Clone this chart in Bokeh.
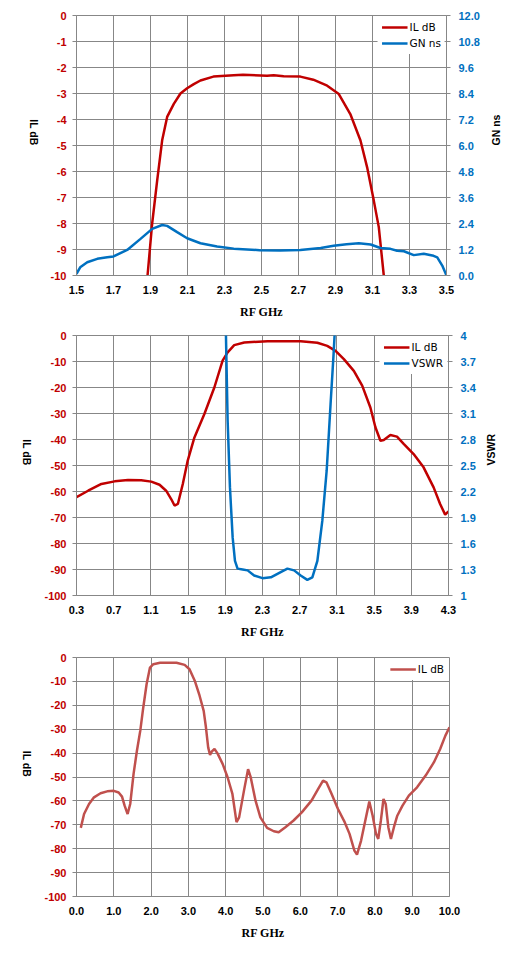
import math
from bokeh.plotting import figure
from bokeh.models import Range1d, LinearAxis, FixedTicker, Legend, LegendItem
from bokeh.layouts import column
from bokeh.embed import file_html
from bokeh.resources import INLINE

RED = "#c00000"
BLUE = "#0070c0"
RED3 = "#c0504d"
GRID = "#878787"

# ---------------- Chart 1: IL dB and GN ns, 1.5-3.5 GHz ----------------
c1_freq_il = [1.884, 1.909, 1.936, 1.963, 1.99, 2.026, 2.062, 2.098, 2.134, 2.17, 2.24, 2.35,
              2.40, 2.53, 2.566, 2.62, 2.71, 2.78, 2.855, 2.918, 2.98, 3.035, 3.071, 3.107,
              3.134, 3.161]
c1_il = [-10.0, -8.0, -6.35, -4.8, -3.9, -3.4, -3.0, -2.8, -2.64, -2.5, -2.35, -2.3,
         -2.28, -2.32, -2.3, -2.34, -2.35, -2.47, -2.7, -3.02, -3.79, -4.81, -5.84, -7.12,
         -8.14, -10.0]
c1_freq_gn = [1.5, 1.52, 1.558, 1.612, 1.666, 1.70, 1.774, 1.846, 1.909, 1.963, 1.99, 2.044,
              2.098, 2.17, 2.26, 2.35, 2.49, 2.6, 2.71, 2.82, 2.89, 2.96, 3.026, 3.09,
              3.143, 3.197, 3.233, 3.27, 3.323, 3.377, 3.43, 3.45, 3.477, 3.5]
c1_gn = [0.08, 0.38, 0.61, 0.77, 0.84, 0.88, 1.18, 1.69, 2.15, 2.33, 2.29, 2.0,
         1.72, 1.49, 1.34, 1.24, 1.17, 1.15, 1.18, 1.27, 1.37, 1.44, 1.49, 1.43,
         1.27, 1.23, 1.14, 1.12, 0.94, 1.0, 0.91, 0.84, 0.46, 0.0]
c1_x_ticks = [1.5, 1.7, 1.9, 2.1, 2.3, 2.5, 2.7, 2.9, 3.1, 3.3, 3.5]
c1_x_labels = ["1.5", "1.7", "1.9", "2.1", "2.3", "2.5", "2.7", "2.9", "3.1", "3.3", "3.5"]
c1_y_ticks = [0, -1, -2, -3, -4, -5, -6, -7, -8, -9, -10]
c1_y_labels = ["0", "-1", "-2", "-3", "-4", "-5", "-6", "-7", "-8", "-9", "-10"]
c1_r_ticks = [0.0, 1.2, 2.4, 3.6, 4.8, 6.0, 7.2, 8.4, 9.6, 10.8, 12.0]
c1_r_labels = ["0.0", "1.2", "2.4", "3.6", "4.8", "6.0", "7.2", "8.4", "9.6", "10.8", "12.0"]

# ---------------- Chart 2: IL dB and VSWR, 0.3-4.3 GHz ----------------
c2_freq_il = [0.3, 0.425, 0.568, 0.71, 0.854, 0.996, 1.104, 1.193, 1.264, 1.318, 1.354, 1.39,
              1.443, 1.496, 1.568, 1.675, 1.782, 1.871, 1.925, 1.996, 2.104, 2.354, 2.71,
              2.89, 2.996, 3.086, 3.175, 3.282, 3.372, 3.46, 3.514, 3.568, 3.604, 3.675,
              3.746, 3.818, 3.925, 4.032, 4.14, 4.21, 4.264, 4.3]
c2_il = [-62.2, -59.7, -57.1, -56.1, -55.6, -55.7, -56.2, -57.4, -59.7, -62.9, -65.4, -64.8,
         -57.1, -48.1, -39.2, -30.2, -20.0, -9.7, -6.5, -3.7, -2.7, -2.2, -2.2,
         -2.8, -4.0, -5.9, -9.1, -13.6, -19.3, -27.7, -35.3, -40.5, -40.2, -38.3,
         -38.9, -41.7, -45.6, -50.7, -58.4, -64.8, -68.9, -67.6]
c2_freq_vswr = [1.898, 1.911, 1.925, 1.95, 1.979, 2.004, 2.032, 2.086, 2.14, 2.21, 2.3, 2.39,
                2.496, 2.568, 2.64, 2.71, 2.782, 2.836, 2.89, 2.943, 2.99, 3.032, 3.064,
                3.075, 3.085]
c2_vswr = [4.5, 3.78, 3.02, 2.25, 1.67, 1.40, 1.31, 1.30, 1.29, 1.23, 1.20, 1.21,
           1.27, 1.31, 1.29, 1.23, 1.18, 1.21, 1.40, 1.86, 2.44, 3.21, 3.78,
           4.0, 4.5]
c2_x_ticks = [0.3, 0.7, 1.1, 1.5, 1.9, 2.3, 2.7, 3.1, 3.5, 3.9, 4.3]
c2_x_labels = ["0.3", "0.7", "1.1", "1.5", "1.9", "2.3", "2.7", "3.1", "3.5", "3.9", "4.3"]
c2_y_ticks = [0, -10, -20, -30, -40, -50, -60, -70, -80, -90, -100]
c2_y_labels = ["0", "-10", "-20", "-30", "-40", "-50", "-60", "-70", "-80", "-90", "-100"]
c2_r_ticks = [1.0, 1.3, 1.6, 1.9, 2.2, 2.5, 2.8, 3.1, 3.4, 3.7, 4.0]
c2_r_labels = ["1", "1.3", "1.6", "1.9", "2.2", "2.5", "2.8", "3.1", "3.4", "3.7", "4"]

# ---------------- Chart 3: IL dB, 0-10 GHz ----------------
c3_freq = [0.115, 0.203, 0.336, 0.469, 0.645, 0.822, 1.0, 1.13, 1.22, 1.29, 1.37, 1.44,
           1.53, 1.62, 1.71, 1.79, 1.88, 1.97, 2.06, 2.24, 2.68, 2.9, 3.03, 3.17, 3.30,
           3.41, 3.47, 3.53, 3.58, 3.63, 3.70, 3.78, 3.92, 4.05, 4.18, 4.29, 4.36, 4.49,
           4.60, 4.67, 4.80, 4.93, 5.11, 5.29, 5.42, 5.60, 5.82, 6.04, 6.30, 6.48, 6.61,
           6.70, 6.84, 7.01, 7.19, 7.32, 7.45, 7.52, 7.63, 7.76, 7.85, 7.94, 8.03, 8.09,
           8.16, 8.23, 8.29, 8.36, 8.43, 8.51, 8.60, 8.74, 8.91, 9.13, 9.36, 9.58, 9.75,
           9.89, 10.0]
c3_il = [-71.3, -65.5, -61.3, -58.5, -56.8, -56.0, -55.8, -56.5, -58.2, -62.0, -65.5, -61.3,
         -48.7, -39.0, -30.6, -20.9, -11.1, -4.2, -2.8, -2.2, -2.2, -3.1, -4.9, -9.7, -16.0,
         -22.3, -29.2, -37.6, -40.8, -39.3, -38.3, -40.1, -44.6, -50.1, -57.1, -68.9, -66.9, -55.7,
         -46.7, -50.1, -59.9, -66.9, -71.3, -72.7, -73.1, -71.0, -68.2, -64.8, -59.9, -55.0, -51.5,
         -52.2, -57.1, -63.4, -68.9, -73.8, -80.8, -82.5, -76.6, -66.9, -60.3, -66.2, -73.8, -75.9,
         -68.2, -59.2, -61.3, -71.0, -75.9, -71.0, -66.2, -62.0, -57.8, -54.3, -49.4, -43.9, -38.3,
         -32.7, -29.2]
c3_x_ticks = [0, 1, 2, 3, 4, 5, 6, 7, 8, 9, 10]
c3_x_labels = ["0.0", "1.0", "2.0", "3.0", "4.0", "5.0", "6.0", "7.0", "8.0", "9.0", "10.0"]
c3_y_ticks = c2_y_ticks
c3_y_labels = c2_y_labels

TICK_FONT = "Liberation Sans"


def style_axis(ax, ticks, labels, color, tick_out):
    ax.ticker = FixedTicker(ticks=ticks)
    ax.major_label_overrides = {t: l for t, l in zip(ticks, labels)}
    ax.major_label_text_font = TICK_FONT
    ax.major_label_text_font_style = "bold"
    ax.major_label_text_font_size = "11px"
    ax.major_label_text_color = color
    ax.axis_line_color = GRID
    ax.major_tick_line_color = GRID
    ax.major_tick_out = tick_out
    ax.major_tick_in = 0
    ax.minor_tick_line_color = None
    ax.axis_label_text_font = TICK_FONT
    ax.axis_label_text_font_style = "bold"
    ax.axis_label_text_font_size = "10.5px"
    ax.axis_label_text_color = "black"


def make_fig(fw, fh, bl, bt, bb, br, xr, yr, xt, xl, yt, yl):
    p = figure(frame_width=fw, frame_height=fh, min_border_left=bl, min_border_top=bt,
               min_border_bottom=bb, min_border_right=br, x_range=xr, y_range=yr,
               output_backend="svg", toolbar_location=None)
    p.outline_line_color = GRID
    p.background_fill_color = "white"
    p.border_fill_color = "white"
    for g in (p.xgrid, p.ygrid):
        g.grid_line_color = GRID
        g.grid_line_width = 1
    p.xgrid.ticker = FixedTicker(ticks=xt)
    p.ygrid.ticker = FixedTicker(ticks=yt)
    style_axis(p.xaxis[0], xt, xl, "black", 0)
    p.xaxis[0].major_label_standoff = 10
    p.xaxis[0].axis_label = "RF GHz"
    p.xaxis[0].axis_label_text_font = "Liberation Serif"
    p.xaxis[0].axis_label_text_font_size = "12px"
    p.xaxis[0].axis_label_standoff = 8
    style_axis(p.yaxis[0], yt, yl, RED, 4)
    p.yaxis[0].major_label_standoff = 6
    p.yaxis[0].axis_label = "IL dB"
    p.yaxis[0].axis_label_standoff = 14
    p.yaxis[0].axis_label_orientation = -math.pi / 2
    return p


def add_right(p, name, rng, ticks, labels, title, standoff):
    p.extra_y_ranges = {name: rng}
    ax = LinearAxis(y_range_name=name)
    style_axis(ax, ticks, labels, BLUE, 4)
    ax.major_label_standoff = 8
    ax.axis_label = title
    ax.axis_label_standoff = standoff
    ax.axis_label_orientation = math.pi / 2
    p.add_layout(ax, "right")


def add_legend(p, items):
    lg = Legend(items=items, location="top_right")
    lg.border_line_alpha = 0
    lg.background_fill_color = "white"
    lg.background_fill_alpha = 1
    lg.label_text_font = "DejaVu Sans"
    lg.label_text_font_size = "10.5px"
    lg.label_text_color = "black"
    lg.glyph_width = 26
    lg.glyph_height = 14
    lg.label_height = 14
    lg.label_standoff = 2
    lg.spacing = 2
    lg.padding = 4
    lg.margin = 1
    p.add_layout(lg)


# Chart 1
p1 = make_fig(370, 260, 76, 15, 53, 72, Range1d(1.5, 3.5), Range1d(-10, 0),
              c1_x_ticks, c1_x_labels, c1_y_ticks, c1_y_labels)
add_right(p1, "gn", Range1d(0, 12), c1_r_ticks, c1_r_labels, "GN ns", 13)
r1a = p1.line(c1_freq_il, c1_il, line_color=RED, line_width=2.5)
r1b = p1.line(c1_freq_gn, c1_gn, line_color=BLUE, line_width=2.5, y_range_name="gn")
add_legend(p1, [LegendItem(label="IL dB", renderers=[r1a]),
                LegendItem(label="GN ns", renderers=[r1b])])

# Chart 2
p2 = make_fig(372, 260, 76, 7, 53, 70, Range1d(0.3, 4.3), Range1d(-100, 0),
              c2_x_ticks, c2_x_labels, c2_y_ticks, c2_y_labels)
add_right(p2, "vswr", Range1d(1, 4), c2_r_ticks, c2_r_labels, "VSWR", 12)
r2a = p2.line(c2_freq_il, c2_il, line_color=RED, line_width=2.5)
r2b = p2.line(c2_freq_vswr, c2_vswr, line_color=BLUE, line_width=2.5, y_range_name="vswr")
add_legend(p2, [LegendItem(label="IL dB", renderers=[r2a]),
                LegendItem(label="VSWR", renderers=[r2b])])

# Chart 3
p3 = make_fig(373, 239, 76, 9, 53, 69, Range1d(0, 10), Range1d(-100, 0),
              c3_x_ticks, c3_x_labels, c3_y_ticks, c3_y_labels)
r3 = p3.line(c3_freq, c3_il, line_color=RED3, line_width=2.5)
add_legend(p3, [LegendItem(label="IL dB", renderers=[r3])])

layout = column(p1, p2, p3, spacing=0)
open("out.html", "w").write(file_html(layout, INLINE))
